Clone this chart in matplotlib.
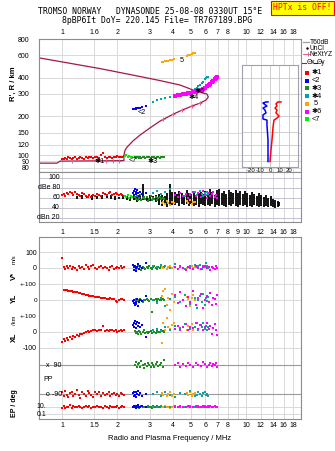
import matplotlib
matplotlib.use('Agg')
import matplotlib.pyplot as plt
from matplotlib.lines import Line2D
from matplotlib.ticker import NullLocator, NullFormatter

plt.rcParams['font.family'] = ['Liberation Sans', 'DejaVu Sans']

# ---------------- data ----------------
grid_f = [1, 1.5, 2, 3, 4, 5, 6, 7, 8, 9, 10, 12, 14, 16, 18]
top_lbl = ['1', '1.6', '2', '3', '4', '5', '6', '7', '8', '', '10', '12', '14', '16', '18']
mid_lbl = ['1', '1.5', '2', '3', '4', '5', '6', '7', '8', '9', '10', '12', '14', '16', '18']
bot_lbl = ['1', '1.5', '2', '3', '4', '5', '6', '7', '8', '', '10', '12', '14', '16', '18']
h_ticks = [80, 90, 100, 120, 150, 200, 300, 400, 600, 800]

# electron density profile (plasma freq MHz, height km)
prof_f = [0.76, 0.94, 0.975, 2.17, 2.17, 2.20, 2.25, 2.43, 2.65, 3.01, 3.41, 4.01, 4.49,
          5.09, 5.62, 6.06, 6.24, 6.13, 5.83, 5.16, 4.38, 3.41, 2.65, 1.61, 0.76]
prof_h = [86.7, 86.7, 89.9, 90.7, 100, 109, 115, 129, 143, 163, 184, 208, 224,
          241, 254, 268, 283, 299, 304, 321, 351, 380, 409, 471, 569]
xyz_f = [1.14, 1.73, 1.89, 2.05, 3.54, 4.01, 4.49, 5.09, 5.62]
xyz_h = [90.7, 90.7, 90.7, 90.7, 191, 208, 224, 241, 254]

# echo class 1 (red)
red_f = [1.00, 1.02, 1.04, 1.06, 1.08, 1.10, 1.13, 1.15, 1.18, 1.20, 1.23, 1.26, 1.29, 1.32, 1.35, 1.38,
         1.41, 1.44, 1.48, 1.52, 1.55, 1.59, 1.63, 1.67, 1.71, 1.75, 1.79, 1.83, 1.87, 1.92, 1.96, 2.00,
         2.04, 2.08, 2.12, 2.16]
red_h = [93, 94, 95, 94, 96, 95, 94, 95, 96, 94, 95, 96, 95, 94, 96, 95, 97, 96, 95, 96,
         97, 95, 100, 104, 96, 95, 97, 96, 95, 97, 96, 98, 97, 96, 97, 98]
red_amp = [66, 68, 64, 70, 67, 72, 69, 65, 71, 68, 66, 63, 70, 67, 64, 62, 66, 61, 65, 63,
           68, 66, 64, 70, 67, 65, 69, 71, 66, 68, 70, 67, 65, 68, 66, 64]
red_v = [62, 5, -8, 10, 0, 15, -5, 8, 2, -10, 12, 0, 5, -6, 18, 3, -4, 10, 20, 0,
         -8, 6, 15, -3, 8, 0, -10, 4, 12, -5, 2, 7, -2, 10, 0, 3]
red_yl = [110, 66, 62, 63, 58, 60, 55, 52, 50, 48, 45, 44, 40, 38, 35, 30, 28, 26, 24, 20,
          18, 16, 12, 10, 14, 8, 6, 10, 4, 6, -6, -10, 0, 4, 6, 2]
red_xl = [-62, -45, -55, -38, -50, -30, -42, -28, -35, -22, -25, -15, -10, -5, 0, 5, -3, 8, 10, 12,
          6, 15, 10, 38, 8, 12, 5, 10, 14, 6, 10, 0, 8, 12, 5, 10]
red_pp = [-80, -100, -70, -95, -110, -85, -75, -105, -90, -65, -95, -115, -80, -90, -100, -70, -85, -95,
          -110, -80, -90, -75, -100, -85, -95, -90, -80, -105, -90, -85, -95, -90, -100, -85, -90, -95]
red_ep = [5, 15, 3, 10, 8, 20, 4, 12, 10, 6, 15, 8, 4, 10, 18, 6, 12, 5, 10, 8,
          14, 6, 10, 4, 12, 8, 5, 15, 10, 6, 8, 12, 5, 10, 14, 6]

# echo class 2 (blue)
blue_f = [2.43, 2.45, 2.47, 2.49, 2.51, 2.53, 2.56, 2.59, 2.62, 2.66, 2.71, 2.85]
blue_h = [229, 230, 228, 229, 231, 230, 232, 231, 233, 234, 235, 241]
blue_amp = [70, 74, 66, 78, 72, 68, 75, 70, 64, 72, 68, 70]
blue_v = [20, 5, -10, 12, 0, -18, 8, 25, -5, 10, 0, 30]
blue_yl = [-5, -20, 0, -35, -12, -28, 5, -40, -15, 0, -8, 25]
blue_xl = [45, 60, 30, 70, 50, 25, 65, 40, 55, 30, 45, -35]
blue_pp = [-85, -100, -75, -95, -80, -110, -90, -70, -95, -85, -100, -90]
blue_ep = [10, 6, 15, 8, 12, 5, 10, 20, 7, 10, 12, 8]

# echo class 3 (green)
green_f = [2.48, 2.52, 2.55, 2.58, 2.62, 2.66, 2.70, 2.74, 2.78, 2.83, 2.88, 2.93,
           2.98, 3.03, 3.08, 3.13, 3.18, 3.23, 3.28, 3.34, 3.40, 3.46, 3.52, 3.58]
green_h = [96, 95, 96, 97, 95, 96, 95, 97, 96, 95, 96, 97, 96, 95, 96, 97, 96, 95, 97, 96, 95, 96, 97, 96]
green_amp = [62, 58, 64, 56, 60, 66, 55, 59, 62, 57, 61, 54, 58, 63, 56, 60, 58, 62, 55, 59, 61, 57, 60, 58]
green_v = [5, -8, 0, 10, -5, 3, -12, 6, 0, -4, 8, -2, 12, 0, -6, 4, 10, 2, -8, 6, 0, 14, -3, 5]
green_yl = [0, 5, -8, 2, -4, 6, 0, -10, 3, -2, 8, 0, -6, 4, -75, 2, 0, 6, -4, 8, 2, -2, 5, 0]
green_xl = [5, -5, 0, -10, 8, -3, -15, 0, 10, -5, 2, -8, 0, 6, -4, 12, 0, -6, 8, 2, -2, 10, 4, 0]
green_pp = [90, 110, 75, 95, 100, 80, 115, 90, 70, 95, 85, 100, 90, 75, 105, 90, 80, 95, 110, 85, 90, 100, 80, 120]
green_ep = [10, 6, 12, 8, 5, 10, 15, 7, 10, 9, 6, 12, 8, 10, 5, 11, 9, 7, 12, 10, 8, 6, 10, 9]

# echo class 4 (teal)
teal_f = [3.12, 3.28, 3.45, 3.63, 3.86, 4.11, 4.38, 4.66, 4.96, 5.28, 5.42, 5.48, 5.62, 5.76, 5.83, 5.98, 6.06, 6.13, 6.20]
teal_h = [260, 269, 274, 279, 284, 289, 294, 300, 305, 327, 333, 346, 352, 365, 371, 392, 399, 402, 406]
teal_amp = [70, 74, 68, 72, 78, 66, 70, 64, 68, 72, 66, 70, 74, 68, 64, 70, 66, 72, 68]
teal_v = [15, 5, 20, 10, 0, 25, 8, -5, 12, 18, 5, 10, 22, -8, 15, 6, 30, 10, 0]
teal_yl = [0, -20, 10, -40, 5, 20, -10, 30, -25, 15, -50, 0, 25, -15, 40, -30, 10, -5, 20]
teal_xl = [10, 20, 5, 30, 15, 40, 25, 50, 20, 35, 60, 15, 45, 30, 55, 20, 40, 10, 30]
teal_pp = [-90, -80, -100, -75, -95, -110, -85, -90, -70, -100, -95, -80, -90, -105, -85, -75, -95, -90, -100]
teal_ep = [10, 8, 12, 6, 10, 14, 9, 7, 11, 10, 8, 12, 10, 6, 9, 13, 10, 8, 11]

# echo class 5 (orange)
orange_f = [3.48, 3.56, 3.63, 3.70, 3.78, 3.86, 3.95, 4.05, 4.75, 4.85, 4.96, 5.06, 5.16, 5.26]
orange_h = [530, 532, 537, 540, 544, 548, 552, 556, 592, 598, 605, 612, 618, 624]
orange_amp = [50, 52, 48, 54, 50, 46, 52, 49, 53, 50, 55, 48, 51, 52]
orange_v = [5, 0, 10, -5, 8, 15, 0, 5, -3, 8, 2, 10, 0, 6]
orange_yl = [25, 56, 70, -30, 10, -62, 40, -10, 20, 5, -40, 15, 30, 0]
orange_xl = [-69, 56, 10, 87, 30, 20, 45, 60, 15, 40, 25, 50, 10, 35]
orange_pp = [-85, -95, -75, -100, -90, -80, -105, -90, -85, -95, -80, -100, -90, -85]
orange_ep = [10, 6, 12, 8, 10, 5, 9, 11, 7, 10, 12, 8, 10, 9]

# echo class 6 (magenta)
mag_f = [4.11, 4.27, 4.38, 4.54, 4.72, 4.84, 4.96, 5.16, 5.35, 5.48, 5.69, 5.83, 5.98, 6.13, 6.29,
         6.37, 6.53, 6.61, 6.79, 6.87, 6.97]
mag_h = [289, 292, 294, 300, 300, 302, 305, 308, 311, 316, 322, 327, 333, 346, 352, 358, 371, 378, 392, 399, 406]
mag_amp = [66, 62, 70, 64, 68, 60, 66, 72, 64, 70, 62, 74, 66, 60, 70, 64, 68, 72, 62, 66, 60]
mag_v = [5, -5, 10, 0, -10, 8, 2, -6, 12, 0, -8, 6, 15, -3, 4, -12, 8, 0, -5, 10, 2]
mag_yl = [30, -20, 50, 0, -40, 20, -10, 60, -30, 10, 40, -50, 0, 25, -15, 45, -35, 15, 5, -25, 35]
mag_xl = [20, 40, 10, 30, 50, 15, 35, 25, 60, 20, 45, 10, 30, 55, 20, 40, -10, 25, 50, 15, -20]
mag_pp = [90, 100, 80, 95, 85, 105, 90, 75, 100, 90, 85, 110, 95, 80, 90, 100, 85, 95, 90, 105, 80]
mag_ep = [10, 8, 12, 6, 10, 14, 9, 7, 11, 10, 8, 12, 10, 6, 9, 13, 10, 8, 11, 7, 10]

# echo class 7 (lime)
lime_f = [2.20, 2.24, 2.28, 2.32, 2.36, 2.41]
lime_h = [98, 100, 97, 99, 96, 97]
lime_amp = [64, 62, 66, 60, 63, 61]

# unclassified amplitude (dB), min / max per frequency
black_f = [1.20, 1.28, 1.36, 1.45, 1.55, 1.65, 1.75, 1.85, 1.95, 2.05, 2.15,
           2.25, 2.35, 2.45, 2.55, 2.65, 2.76, 2.88, 3.0, 3.12, 3.25, 3.38, 3.5, 3.62, 3.74, 3.86, 3.98,
           4.1, 4.22, 4.35, 4.48, 4.62, 4.76, 4.9, 5.05, 5.2, 5.36, 5.52, 5.68, 5.85, 6.02, 6.2, 6.38,
           6.57, 6.76, 6.96, 7.17, 7.38, 7.6, 7.82, 8.05, 8.29, 8.54, 8.79, 9.05, 9.32, 9.6, 9.88,
           10.17, 10.47, 10.78, 11.1, 11.43, 11.77, 12.12, 12.48, 12.85, 13.23, 13.62, 14.02, 14.44,
           14.87, 15.1]
black_lo = [58, 57, 59, 56, 58, 57, 59, 58, 56, 58, 57,
            55, 54, 56, 52, 55, 56, 53, 54, 55, 52, 46, 44, 48, 42, 44, 46,
            46, 50, 44, 48, 45, 47, 43, 48, 44, 46, 42, 47, 45, 43, 46, 44,
            48, 42, 45, 43, 46, 44, 42, 45, 43, 47, 44, 42, 46, 43, 45,
            41, 44, 42, 45, 43, 41, 44, 42, 43, 41, 44, 42, 40,
            42, 43]
black_hi = [64, 66, 63, 65, 64, 66, 63, 65, 64, 62, 63,
            64, 62, 66, 63, 65, 88, 64, 66, 63, 65, 68, 66, 64, 70, 88, 72,
            72, 68, 74, 70, 66, 75, 70, 68, 73, 66, 70, 72, 68, 74, 70, 77,
            72, 66, 75, 78, 70, 74, 68, 76, 72, 69, 75, 70, 73, 67, 74,
            70, 66, 72, 68, 64, 70, 66, 62, 66, 60, 63, 58, 56,
            54, 52]

# tilt inset (deg vs km)
tiltx = [0, 1, 2.1, 3.2, 4.2, 7.4, 9.5, 6.3, 7.4, 5.3, 7.4, 6.3, 8.4, 11.6]
tiltx_h = [89, 109, 131, 165, 187, 194, 201, 213, 224, 232, 241, 250, 259, 259]
tilty = [-2.1, -2.1, -3.2, -3.2, -7.4, -7.4, -4.2, -5.3, -7.4, -3.2, -6.3, -7.4, -4.2, -2.1]
tilty_h = [89, 131, 171, 187, 191, 205, 213, 224, 232, 241, 250, 254, 259, 259]

C_RED, C_BLUE, C_GREEN, C_TEAL = '#ff0000', '#0000ff', '#1e8c1e', '#00a5a5'
C_ORANGE, C_MAG, C_LIME = '#ffa500', '#ff00ff', '#00ee00'
C_PROF, C_XYZ = '#a3174b', '#e0608c'
FRAME, GRID = '#8c8c8c', '#d9d9d9'

W, H = 335, 451


def box(x0, y0, x1, y1):
    return [x0 / W, 1 - y1 / H, (x1 - x0) / W, (y1 - y0) / H]


def fpos(x, y):
    return x / W, 1 - y / H


fig = plt.figure(figsize=(W / 100, H / 100), dpi=100)


def freq_axes(rect, labels=None, top=False, pad=2):
    ax = fig.add_axes(rect)
    ax.set_xscale('log')
    ax.set_xlim(0.75, 19.9)
    ax.xaxis.set_minor_locator(NullLocator())
    ax.xaxis.set_minor_formatter(NullFormatter())
    ax.yaxis.set_minor_locator(NullLocator())
    ax.set_xticks(grid_f)
    ax.set_xticklabels(labels if labels else [''] * len(grid_f))
    if top:
        ax.xaxis.tick_top()
    ax.tick_params(length=0, labelsize=5, pad=pad)
    for s in ax.spines.values():
        s.set_color(FRAME)
        s.set_linewidth(0.8)
    ax.grid(True, color=GRID, lw=0.7)
    ax.set_axisbelow(True)
    return ax


def dots(ax, x, y, c, ms=2.0):
    ax.plot(x, y, 's', ms=ms, mew=0, color=c, ls='none', zorder=3)


# ---------------- main height panel ----------------
ax = freq_axes(box(39, 39, 301, 172), top_lbl, top=True, pad=2.5)
ax.set_yscale('log')
ax.set_ylim(74, 800)
ax.yaxis.set_minor_locator(NullLocator())
ax.set_yticks(h_ticks)
ax.set_yticklabels([str(t) for t in h_ticks])
ax.tick_params(axis='y', pad=7)
ax.plot(prof_f, prof_h, color=C_PROF, lw=0.9, zorder=2)
ax.plot(xyz_f, xyz_h, '+', color=C_XYZ, ms=3, mew=0.7, ls='none', zorder=2)
dots(ax, red_f, red_h, C_RED)
dots(ax, lime_f, lime_h, C_LIME)
dots(ax, green_f, green_h, C_GREEN)
dots(ax, blue_f, blue_h, C_BLUE)
dots(ax, orange_f, orange_h, C_ORANGE)
dots(ax, teal_f, teal_h, C_TEAL)
dots(ax, mag_f, mag_h, C_MAG, ms=2.4)
for txt, f, h in [('✱1', 1.61, 90), ('<2', 2.72, 216), ('<7', 2.43, 91), ('✱3', 3.12, 90),
                  ('5', 4.49, 549), ('✱4', 5.22, 280), ('✱6', 5.62, 312)]:
    ax.text(f, h, txt, fontsize=5.2, ha='center', va='center', zorder=5)
fig.text(*fpos(13, 84), "R', R / km", rotation=90, fontsize=5.5, fontweight='bold',
         ha='center', va='center')

# tilt inset
ins = fig.add_axes(box(242, 65, 298, 167))
ins.set_yscale('log')
ins.set_ylim(80.7, 502)
ins.set_xlim(-29.5, 29.5)
ins.yaxis.set_minor_locator(NullLocator())
ins.set_yticks([90, 100, 120, 150, 200, 300, 400])
ins.set_yticklabels([])
ins.set_xticks([-20, -10, 0, 10, 20])
ins.set_xticklabels(['-20', '-10', '0', '10', '20'])
ins.tick_params(length=0, labelsize=4.3, pad=0.5)
ins.grid(True, color='#c8c8c8', lw=0.6)
ins.set_axisbelow(True)
for s in ins.spines.values():
    s.set_color('#a0a0b0')
    s.set_linewidth(0.8)
ins.plot(tiltx, tiltx_h, color=C_RED, lw=1.1)
ins.plot(tilty, tilty_h, color=C_BLUE, lw=1.1)
ins.set_xlabel('Tilt / deg', fontsize=4.5, labelpad=0)

# ---------------- amplitude panel ----------------
db = freq_axes(box(39, 172, 301, 222), mid_lbl, pad=5)
db.set_ylim(11.4, 111)
db.set_yticks([20, 40, 60, 80, 100])
db.set_yticklabels([])
db.grid(True, axis='y', color='#c4c4d0', lw=0.7)
db.vlines(black_f, black_lo, black_hi, color='black', lw=1.3, zorder=2)
dots(db, red_f, red_amp, C_RED)
dots(db, lime_f, lime_amp, C_LIME)
dots(db, green_f, green_amp, C_GREEN)
dots(db, blue_f, blue_amp, C_BLUE)
dots(db, orange_f, orange_amp, C_ORANGE)
dots(db, teal_f, teal_amp, C_TEAL)
dots(db, mag_f, mag_amp, C_MAG)
tr = db.get_yaxis_transform()
for v, s in [(100, '100'), (80, 'dBe 80'), (60, '60'), (40, '40'), (20, 'dBn 20')]:
    db.text(0.08, v, s, transform=tr, fontsize=5, ha='right', va='center')

# ---------------- lower panels ----------------
vax = freq_axes(box(39, 237, 301, 284))
yax = freq_axes(box(39, 284, 301, 316))
xax = freq_axes(box(39, 316, 301, 356))
pax = freq_axes(box(39, 356, 301, 400))
eax = freq_axes(box(39, 400, 301, 419), bot_lbl, pad=2)
for a in (vax, yax, xax, pax):
    a.spines['bottom'].set_visible(False)
for a in (yax, xax, pax, eax):
    a.spines['top'].set_visible(False)

vax.set_ylim(-102, 197)
vax.set_yticks([0, 100])
vax.set_yticklabels(['0', '100'])
yax.set_ylim(-102, 102)
yax.set_yticks([-100, 0, 100])
yax.set_yticklabels(['+-100', '0', '+-100'])
xax.set_ylim(-153, 102)
xax.set_yticks([-100, 0])
xax.set_yticklabels(['-100', '0'])
for a in (vax, yax, xax):
    a.tick_params(axis='y', pad=1.5)
yax.tick_params(axis='y', labelsize=4.6)
pax.set_ylim(-127, 146)
pax.set_yticks([-90, 90])
pax.set_yticklabels([])
pax.grid(True, axis='y', color='#9a9a9a', lw=0.8)
eax.set_yscale('log')
eax.set_ylim(0.0047, 540)
eax.yaxis.set_minor_locator(NullLocator())
eax.set_yticks([0.1, 10])
eax.set_yticklabels([])

series = [
    (C_RED, red_f, red_v, red_yl, red_xl, red_pp, red_ep),
    (C_GREEN, green_f, green_v, green_yl, green_xl, green_pp, green_ep),
    (C_BLUE, blue_f, blue_v, blue_yl, blue_xl, blue_pp, blue_ep),
    (C_ORANGE, orange_f, orange_v, orange_yl, orange_xl, orange_pp, orange_ep),
    (C_TEAL, teal_f, teal_v, teal_yl, teal_xl, teal_pp, teal_ep),
    (C_MAG, mag_f, mag_v, mag_yl, mag_xl, mag_pp, mag_ep),
]
for c, f, v, yl, xl, pp, ep in series:
    dots(vax, f, v, c)
    dots(yax, f, yl, c)
    dots(xax, f, xl, c)
    dots(pax, f, pp, c)
    dots(eax, f, ep, c)

tr = pax.get_yaxis_transform()
pax.text(7 / 262, 90, 'x  90', transform=tr, fontsize=5, va='center')
pax.text(7 / 262, -90, 'o -90', transform=tr, fontsize=5, va='center')
pax.text(4 / 262, 0, 'PP', transform=tr, fontsize=5, va='center')
tr = eax.get_yaxis_transform()
eax.text(-2.5 / 262, 10, '10.', transform=tr, fontsize=5, va='center')
eax.text(-2.5 / 262, 0.1, '0.1', transform=tr, fontsize=5, va='center')

for txt, y, fs, bold in [('V*', 275.5, 5.5, True), ('m/s', 259, 4.3, False), ('YL', 298, 5.3, True),
                         ('/km', 320, 4.2, False), ('XL', 337, 5.3, True), ('EP / deg', 403, 5, True)]:
    fig.text(*fpos(14, y), txt, rotation=90, fontsize=fs, ha='center', va='center',
             fontweight='bold' if bold else 'normal')
fig.text(*fpos(170, 439), 'Radio and Plasma Frequency / MHz', fontsize=5.5, ha='center', va='center')

# ---------------- titles ----------------
fig.text(*fpos(150, 12), 'TROMSO NORWAY   DYNASONDE 25-08-08 0330UT 15°E', family='DejaVu Sans Mono',
         fontsize=5.9, ha='center', va='center')
fig.text(*fpos(157, 20.5), '8pBP6It DoY= 220.145 File= TR767189.BPG', family='DejaVu Sans Mono',
         fontsize=5.9, ha='center', va='center')
fig.text(*fpos(302.5, 8), 'HPTx is OFF!', family='DejaVu Sans Mono', fontsize=5.9, color='red',
         ha='center', va='center',
         bbox=dict(boxstyle='square,pad=0.25', facecolor='#ffff00', edgecolor='red', lw=0.8))

# ---------------- legend ----------------
def fig_line(xs, ys, **kw):
    fig.add_artist(Line2D([x / W for x in xs], [1 - y / H for y in ys], transform=fig.transFigure, **kw))


fig_line([303, 309], [42, 42], color='#a0a0a0', lw=0.9)
fig.text(*fpos(310, 42), 'T60dB', fontsize=4.8, va='center')
fig_line([307], [48], marker='.', ms=1.5, color='black', ls='none')
fig.text(*fpos(310, 48), 'UnCl', fontsize=4.8, va='center')
fig_line([303, 308], [54, 54], color=C_XYZ, lw=0.7, marker='+', ms=3, mew=0.7, markevery=[1])
fig.text(*fpos(309, 54), 'NeXtYZ', fontsize=4.8, va='center')
fig_line([302, 306], [63, 63], color=C_PROF, lw=0.8)
fig.text(*fpos(306.5, 63), 'Θx', fontsize=4.8, va='center')
fig_line([313.5, 317], [63, 63], color=C_BLUE, lw=0.8)
fig.text(*fpos(317, 63), 'Θy', fontsize=4.8, va='center')
for lab, c, y in [('✱1', C_RED, 73), ('<2', C_BLUE, 80.5), ('✱3', C_GREEN, 88), ('✱4', C_TEAL, 96),
                  (' 5', C_ORANGE, 103.5), ('✱6', C_MAG, 111.5), ('<7', C_LIME, 119.5)]:
    fig_line([307], [y], marker='s', ms=2.4, mew=0, color=c, ls='none')
    fig.text(*fpos(312, y), lab, fontsize=5.3, va='center')

fig.savefig('out.png', dpi=100, facecolor='white')
